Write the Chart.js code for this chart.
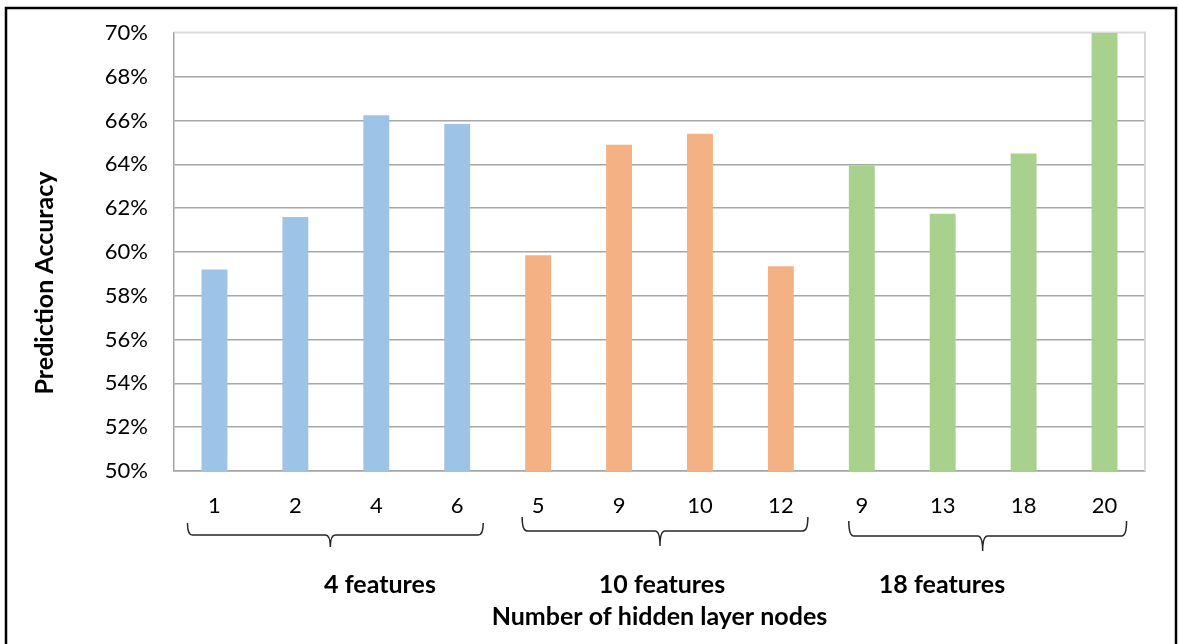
<!DOCTYPE html>
<html>
<head>
<meta charset="utf-8">
<script src="https://cdn.jsdelivr.net/npm/chart.js@4.4.1/dist/chart.umd.min.js"></script>
<style>
  html, body { margin: 0; padding: 0; background: #ffffff; }
  #wrap { position: relative; width: 1179px; height: 644px; }
</style>
</head>
<body>
<div id="wrap"><canvas id="chart" width="1179" height="644"></canvas></div>
<script>
// Hidden-layer node counts tested for each feature set
const nodeLabels = ['1', '2', '4', '6', '5', '9', '10', '12', '9', '13', '18', '20'];
const groupNames = ['4 features', '10 features', '18 features'];
// Prediction accuracy (%) per configuration
const accuracy4 = [59.2, 61.6, 66.25, 65.85];
const accuracy10 = [59.85, 64.9, 65.4, 59.35];
const accuracy18 = [63.95, 61.75, 64.5, 70.0];
const groupColors = ['#9dc3e6', '#f4b183', '#a9d18e'];
const yTicks = [50, 52, 54, 56, 58, 60, 62, 64, 66, 68, 70];
const yTitle = 'Prediction Accuracy';

const groups = [accuracy4, accuracy10, accuracy18];
const values = groups.flat();
const barColors = groups.flatMap((g, i) => g.map(() => groupColors[i]));

// Curly braces under each group of bars, plus the group names
const braceStyle = [
  { dl: -27, dr: 26, top: 523, line: 535, tip: 547, mid: -5, labelX: 380 },
  { dl: -16, dr: 27, top: 517, line: 531, tip: 546, mid: -5, labelX: 662 },
  { dl: -13, dr: 22, top: 521, line: 536, tip: 551, mid: -5, labelX: 942 }
];
const boldFont = 'bold 25px Lato';

const decorations = {
  id: 'decorations',
  beforeDatasetsDraw(chart) {
    const { ctx, chartArea: a } = chart;
    ctx.save();
    ctx.strokeStyle = '#d9d9d9';
    ctx.lineWidth = 2;
    ctx.beginPath();
    ctx.moveTo(a.left, a.top - 0.5);
    ctx.lineTo(a.right, a.top - 0.5);
    ctx.lineTo(a.right, a.bottom);
    ctx.stroke();
    ctx.restore();
  },
  afterDraw(chart) {
    const { ctx } = chart;
    const x = chart.scales.x;
    ctx.save();
    ctx.strokeStyle = '#262626';
    ctx.lineWidth = 1.5;
    let start = 0;
    groups.forEach((g, i) => {
      const s = braceStyle[i];
      const left = x.getPixelForValue(start) + s.dl;
      const right = x.getPixelForValue(start + g.length - 1) + s.dr;
      const c = (left + right) / 2 + s.mid;
      const r = 5;
      ctx.beginPath();
      ctx.moveTo(left, s.top);
      ctx.quadraticCurveTo(left, s.line, left + r, s.line);
      ctx.lineTo(c - r, s.line);
      ctx.quadraticCurveTo(c, s.line, c, s.tip);
      ctx.quadraticCurveTo(c, s.line, c + r, s.line);
      ctx.lineTo(right - r, s.line);
      ctx.quadraticCurveTo(right, s.line, right, s.top);
      ctx.stroke();

      ctx.fillStyle = '#000';
      ctx.font = boldFont;
      ctx.textAlign = 'center';
      ctx.textBaseline = 'middle';
      ctx.fillText(groupNames[i], s.labelX, 585);
      start += g.length;
    });

    // vertical axis title
    ctx.save();
    ctx.translate(45, 283);
    ctx.rotate(-Math.PI / 2);
    ctx.fillStyle = '#000';
    ctx.font = boldFont;
    ctx.textAlign = 'center';
    ctx.textBaseline = 'middle';
    ctx.fillText(yTitle, 0, 0);
    ctx.restore();

    // frame around the figure
    ctx.strokeStyle = '#000';
    ctx.lineWidth = 2.5;
    ctx.strokeRect(6, 8, 1170, 700);
    ctx.restore();
  }
};

new Chart(document.getElementById('chart'), {
  type: 'bar',
  data: {
    labels: nodeLabels,
    datasets: [{
      data: values,
      backgroundColor: barColors,
      borderWidth: 0,
      barPercentage: 0.32,
      categoryPercentage: 1.0
    }]
  },
  options: {
    responsive: false,
    animation: false,
    events: [],
    layout: { padding: { left: 0, top: 33, right: 34, bottom: 0 } },
    plugins: { legend: { display: false }, tooltip: { enabled: false } },
    scales: {
      x: {
        afterFit(s) { s.height = 173; },
        grid: { display: false, drawTicks: false },
        border: { display: true, color: '#a6a6a6', width: 1.5 },
        ticks: { color: '#000', font: { family: 'Lato', size: 22 }, padding: 22, maxRotation: 0, autoSkip: false },
        title: {
          display: true,
          text: 'Number of hidden layer nodes',
          color: '#000',
          font: { family: 'Lato', size: 25, weight: 'bold' },
          padding: { top: 0, bottom: 12 }
        }
      },
      y: {
        min: 50,
        max: 70,
        afterFit(s) { s.width = 174; s.paddingTop = 0; s.paddingBottom = 0; },
        afterBuildTicks(s) { s.ticks = yTicks.map(v => ({ value: v })); },
        grid: {
          drawTicks: false,
          lineWidth: 1.5,
          color: c => (c.tick && c.tick.value === 70 ? 'rgba(0,0,0,0)' : '#a6a6a6')
        },
        border: { display: true, color: '#a6a6a6', width: 1.5 },
        ticks: {
          color: '#000',
          font: { family: 'Lato', size: 22 },
          padding: 26,
          callback: v => v + '%'
        },
        title: { display: false, text: yTitle }
      }
    }
  },
  plugins: [decorations]
});
</script>
</body>
</html>
